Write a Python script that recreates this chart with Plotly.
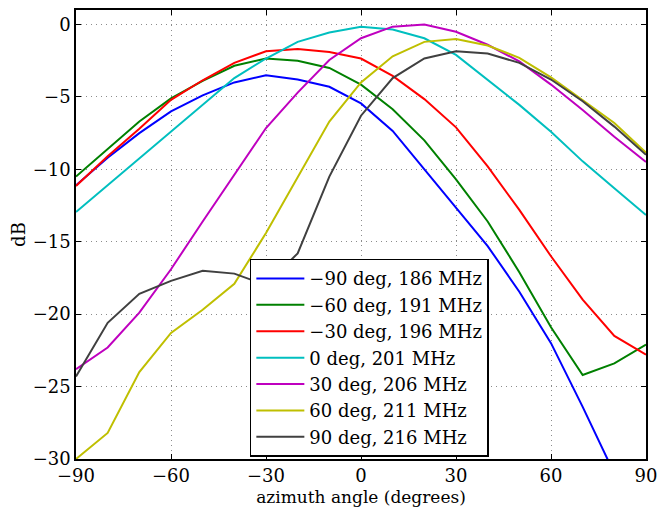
import plotly.graph_objects as go

# azimuth angle (degrees), one sample every 10 degrees
azimuth = [-90, -80, -70, -60, -50, -40, -30, -20, -10, 0,
           10, 20, 30, 40, 50, 60, 70, 80, 90]

# beam patterns in dB
m90_186 = [-11.1, -9.2, -7.5, -6.0, -4.9, -4.0, -3.5, -3.8, -4.3, -5.45,
           -7.35, -10.0, -12.6, -15.3, -18.45, -22.0, -26.4, -31.0, -35.0]
m60_191 = [-10.5, -8.6, -6.7, -5.1, -3.9, -2.85, -2.35, -2.5, -3.0, -4.15,
           -5.85, -8.0, -10.7, -13.6, -17.1, -20.9, -24.2, -23.4, -22.1]
m30_196 = [-11.15, -9.1, -7.2, -5.2, -3.85, -2.65, -1.85, -1.7, -1.9, -2.35,
           -3.55, -5.15, -7.1, -9.8, -12.8, -16.0, -19.0, -21.5, -22.8]
p0_201 = [-12.95, -11.1, -9.3, -7.45, -5.6, -3.7, -2.35, -1.2, -0.55, -0.15,
          -0.35, -0.95, -2.1, -3.8, -5.55, -7.4, -9.45, -11.3, -13.15]
p30_206 = [-23.8, -22.3, -19.9, -16.9, -13.6, -10.4, -7.15, -4.7, -2.45, -0.95,
           -0.15, 0.0, -0.5, -1.4, -2.55, -4.15, -5.9, -7.75, -9.5]
p60_211 = [-30.0, -28.2, -24.0, -21.3, -19.7, -17.9, -14.4, -10.5, -6.7, -4.0,
           -2.2, -1.2, -1.0, -1.45, -2.3, -3.65, -5.2, -6.8, -8.85]
p90_216 = [-24.3, -20.6, -18.6, -17.7, -17.0, -17.2, -18.0, -15.8, -10.5, -6.3,
           -3.7, -2.35, -1.85, -2.0, -2.65, -3.8, -5.3, -7.05, -9.0]

series = [
    ("\u221290 deg, 186 MHz", m90_186, "#0000ff"),
    ("\u221260 deg, 191 MHz", m60_191, "#008000"),
    ("\u221230 deg, 196 MHz", m30_196, "#ff0000"),
    ("0 deg, 201 MHz", p0_201, "#00bfbf"),
    ("30 deg, 206 MHz", p30_206, "#bf00bf"),
    ("60 deg, 211 MHz", p60_211, "#bfbf00"),
    ("90 deg, 216 MHz", p90_216, "#404040"),
]

fig = go.Figure()
for name, vals, color in series:
    fig.add_trace(go.Scatter(x=azimuth, y=vals, mode="lines", name=name,
                             line=dict(color=color, width=2)))

serif = "DejaVu Serif"
axis_style = dict(
    showline=True, linecolor="black", linewidth=1.5, mirror="ticks",
    ticks="inside", ticklen=5, tickcolor="black",
    showgrid=True, gridcolor="#8c8c8c", griddash="1px,4px", gridwidth=1,
    zeroline=False,
    tickfont=dict(family=serif, size=18, color="black"),
)

fig.update_xaxes(range=[-90, 90], tickvals=[-90, -60, -30, 0, 30, 60, 90],
                 title=dict(text="azimuth angle (degrees)", standoff=6,
                            font=dict(family=serif, size=17, color="black")),
                 **axis_style)
fig.update_yaxes(range=[-30, 1], tickvals=[-30, -25, -20, -15, -10, -5, 0],
                 title=dict(text="dB", standoff=4,
                            font=dict(family=serif, size=18, color="black")),
                 **axis_style)

# the page body keeps its 8px default margin, so the figure is offset to fit inside it
fig.update_layout(
    width=652, height=500,
    margin=dict(l=68, r=14, t=2, b=49, autoexpand=False),
    plot_bgcolor="white", paper_bgcolor="white",
    legend=dict(x=0.305, y=0.005, xanchor="left", yanchor="bottom",
                bgcolor="white", bordercolor="black", borderwidth=1.5,
                font=dict(family=serif, size=18, color="black"),
                tracegroupgap=0, itemwidth=48),
    showlegend=True,
)

fig.write_html("out.html")
